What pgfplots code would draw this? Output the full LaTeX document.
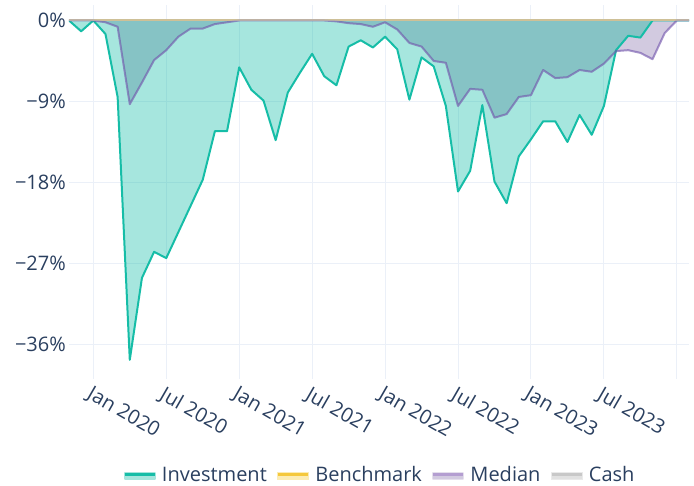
\documentclass[border=0pt]{standalone}
\usepackage{fontspec}
\setmainfont{Open Sans}
\usepackage{pgfplots}
\pgfplotsset{compat=1.18}
\usepackage{pgfplotstable}

\definecolor{labc}{HTML}{2A3F5F}
\definecolor{gridc}{HTML}{EBF0F8}
\definecolor{inv}{RGB}{22,189,167}
\definecolor{invfill}{RGB}{165,229,221}
\definecolor{med}{RGB}{160,130,200}
\definecolor{medline}{RGB}{110,80,170}
\definecolor{medfill}{RGB}{210,202,224}
\definecolor{overlap}{RGB}{134,195,197}
\definecolor{bench}{RGB}{245,200,60}
\definecolor{benchfill}{RGB}{252,236,180}
\definecolor{cash}{RGB}{190,190,190}
\definecolor{cashfill}{RGB}{225,225,225}

\pgfplotstableread{
m v
-2 0
-1 -1.2
0 0
1 -1.5
2 -8.5
3 -37.7
4 -28.6
5 -25.7
6 -26.4
7 -23.5
8 -20.6
9 -17.7
10 -12.3
11 -12.3
12 -5.2
13 -7.7
14 -8.9
15 -13.3
16 -8.0
17 -5.8
18 -3.7
19 -6.2
20 -7.2
21 -2.9
22 -2.2
23 -3.0
24 -1.8
25 -3.2
26 -8.8
27 -4.1
28 -5.1
29 -9.5
30 -19.0
31 -16.7
32 -9.4
33 -17.9
34 -20.3
35 -15.1
36 -13.2
37 -11.2
38 -11.2
39 -13.5
40 -10.5
41 -12.7
42 -9.5
43 -3.3
44 -1.7
45 -1.9
46 0
47 0
48 0
49 0
}\investment

\pgfplotstableread{
m v
-2 0
-1 0
0 0
1 -0.2
2 -0.7
3 -9.3
4 -6.9
5 -4.4
6 -3.3
7 -1.8
8 -0.9
9 -0.9
10 -0.4
11 -0.2
12 0
13 0
14 0
15 0
16 0
17 0
18 0
19 0
20 -0.1
21 -0.3
22 -0.4
23 -0.7
24 -0.2
25 -1.0
26 -2.5
27 -2.9
28 -4.5
29 -4.7
30 -9.5
31 -7.6
32 -7.7
33 -10.8
34 -10.4
35 -8.5
36 -8.3
37 -5.5
38 -6.4
39 -6.3
40 -5.5
41 -5.7
42 -4.8
43 -3.4
44 -3.3
45 -3.6
46 -4.3
47 -1.4
48 0
49 0
}\median

% shallower of Investment and Median at each point (where both areas overlap)
\pgfplotstableread{
m v
-2 0
-1 0
0 0
1 -0.2
2 -0.7
3 -9.3
4 -6.9
5 -4.4
6 -3.3
7 -1.8
8 -0.9
9 -0.9
10 -0.4
11 -0.2
12 0
13 0
14 0
15 0
16 0
17 0
18 0
19 0
20 -0.1
21 -0.3
22 -0.4
23 -0.7
24 -0.2
25 -1.0
26 -2.5
27 -2.9
28 -4.5
29 -4.7
30 -9.5
31 -7.6
32 -7.7
33 -10.8
34 -10.4
35 -8.5
36 -8.3
37 -5.5
38 -6.4
39 -6.3
40 -5.5
41 -5.7
42 -4.8
42.98 -3.42
43 -3.3
44 -1.7
45 -1.9
46 0
47 0
48 0
49 0
}\overlaparea

\pgfplotstableread{
m v
-2 0
49 0
}\flat

\begin{document}
\begin{tikzpicture}
\begin{axis}[
  at={(0,0)}, anchor=south west,
  scale only axis, width=620pt, height=374pt,
  xmin=-2, xmax=49, ymin=-39.83, ymax=1.72,
  axis line style={draw=none},
  major tick length=0pt,
  grid=major,
  grid style={color=gridc, line width=1pt},
  xtick={0,6,...,48},
  xticklabels={Jan 2020,Jul 2020,Jan 2021,Jul 2021,Jan 2022,Jul 2022,Jan 2023,Jul 2023,{}},
  ytick={-36,-27,-18,-9,0},
  yticklabels={−36\%,−27\%,−18\%,−9\%,0\%},
  /pgf/number format/assume math mode=true,
  tick label style={font=\fontsize{20}{24}\selectfont, text=labc},
  xticklabel style={inner sep=0pt, xshift=0pt, yshift=-6pt, rotate=-30, anchor=north west},
  yticklabel style={inner sep=0pt, anchor=east, xshift=-3pt},
  legend columns=4,
  legend style={at={(0.5,-0.2567)}, anchor=center, draw=none, fill=none,
    font=\fontsize{20}{24}\selectfont, text=labc, inner sep=0pt,
    /tikz/every odd column/.append style={column sep=6pt},
    /tikz/every even column/.append style={column sep=10pt},
    nodes={inner sep=0pt}},
]
% fills
\addplot[draw=none, fill=inv, fill opacity=0.38, forget plot] table[x=m,y=v]{\investment} \closedcycle;
\addplot[draw=none, fill=medfill, forget plot] table[x=m,y=v]{\median} \closedcycle;
\addplot[draw=none, fill=overlap, forget plot] table[x=m,y=v]{\overlaparea} \closedcycle;
% lines
\addplot[color=inv, line width=2pt, line join=round,
  legend image code/.code={\fill[invfill] (0pt,-4pt) rectangle (30pt,2.5pt); \draw[inv, line width=2.5pt] (0pt,0.5pt) -- (30pt,0.5pt);}]
  table[x=m,y=v]{\investment};
\addlegendentry{Investment}
\addplot[color=bench, line width=2pt,
  legend image code/.code={\fill[benchfill] (0pt,-4pt) rectangle (30pt,2.5pt); \draw[bench, line width=2.5pt] (0pt,0.5pt) -- (30pt,0.5pt);}]
  table[x=m,y=v]{\flat};
\addlegendentry{Benchmark}
\addplot[color=medline, draw opacity=0.6, line width=2pt, line join=round,
  legend image code/.code={\fill[medfill] (0pt,-4pt) rectangle (30pt,2.5pt); \draw[med, line width=2.5pt] (0pt,0.5pt) -- (30pt,0.5pt);}]
  table[x=m,y=v]{\median};
\addlegendentry{Median}
\addplot[color=cash, draw opacity=0.7, line width=2pt,
  legend image code/.code={\fill[cashfill] (0pt,-4pt) rectangle (30pt,2.5pt); \draw[cash, line width=2.5pt] (0pt,0.5pt) -- (30pt,0.5pt);}]
  table[x=m,y=v]{\flat};
\addlegendentry{Cash}
\end{axis}
\pgfresetboundingbox
\useasboundingbox (-69pt,-107pt) rectangle (625pt,379pt);
\end{tikzpicture}
\end{document}
